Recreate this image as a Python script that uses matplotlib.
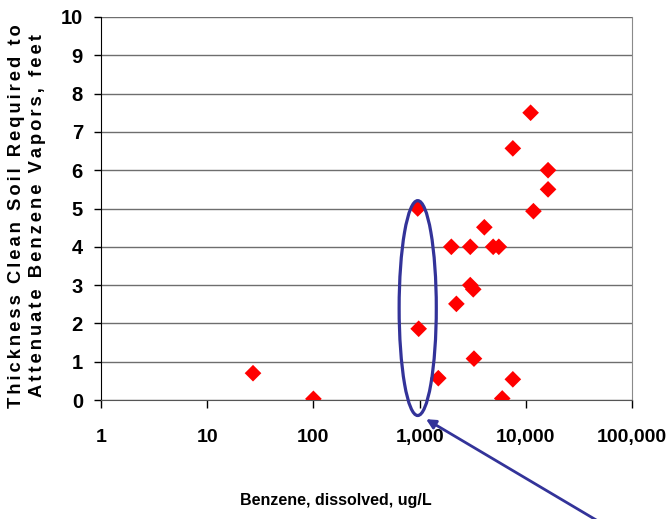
#!/usr/bin/env python3
"""Scatter of soil thickness needed to attenuate benzene vapours vs dissolved benzene."""

import matplotlib
matplotlib.use("Agg")
import matplotlib.pyplot as plt
from matplotlib.patches import Ellipse
from matplotlib.ticker import FixedLocator, NullLocator

# Dissolved benzene (ug/L) and required clean-soil thickness (ft)
benzene_ugl = [27, 100, 960, 980, 1500, 1990, 2220, 3000, 3000, 3200, 3250,
               4070, 4930, 5570, 6000, 7550, 7550, 11100, 16200, 16200, 11800]
thickness_ft = [0.70, 0.03, 5.0, 1.86, 0.57, 4.0, 2.51, 4.0, 3.0, 2.89, 1.08,
                4.51, 4.0, 4.0, 0.04, 0.54, 6.57, 7.5, 6.0, 5.5, 4.93]

x_ticks = [1, 10, 100, 1000, 10000, 100000]
x_tick_labels = ["1", "10", "100", "1,000", "10,000", "100,000"]
y_ticks = list(range(0, 11))

# group highlighted with the ellipse (around 1,000 ug/L)
group_center = (960, 2.4)

BLUE = "#333399"
SANS = ["Liberation Sans", "DejaVu Sans"]


def spaced(text):
    # widen the tracking a little with six-per-em spaces between letters
    return "\u2006".join(text)


fig = plt.figure(figsize=(6.68, 5.19), dpi=100)
ax = fig.add_axes([101 / 668, 1 - 400 / 519, 531 / 668, 383 / 519])

ax.scatter(benzene_ugl, thickness_ft, marker="D", s=72, color="#ff0000",
           edgecolors="none", zorder=3)

ax.set_xscale("log")
ax.set_xlim(1, 100000)
ax.set_ylim(0, 10)
ax.xaxis.set_major_locator(FixedLocator(x_ticks))
ax.xaxis.set_minor_locator(NullLocator())
ax.set_xticklabels(x_tick_labels, fontsize=14, fontweight="bold", family=SANS)
ax.set_yticks(y_ticks)
ax.set_yticklabels([str(v) for v in y_ticks], fontsize=14.5, fontweight="bold",
                   family=SANS)
ax.tick_params(axis="x", direction="out", length=6, width=1, pad=15, color="black")
ax.tick_params(axis="y", direction="out", length=5, width=1, pad=8, color="black")

ax.grid(axis="y", color="#6e6e6e", linewidth=1.0)
ax.set_axisbelow(True)
ax.spines["top"].set_visible(False)
ax.spines["right"].set_color("#8a8a8a")
ax.spines["left"].set_color("black")
ax.spines["bottom"].set_color("#555555")

ylabel = spaced("Thickness Clean Soil Required to") + "\n" + \
    spaced("Attenuate Benzene Vapors, feet")
fig.text(27 / 668, 1 - 216 / 519, ylabel,
         rotation=90, ha="center", va="center", fontsize=13.2, fontweight="bold",
         family=SANS, linespacing=1.3, multialignment="center")
fig.text(336 / 668, 1 - 500 / 519, "Benzene, dissolved, ug/L", ha="center",
         va="center", fontsize=11.5, fontweight="bold", family=SANS)

# ellipse around the ~1,000 ug/L samples
cx, cy = ax.transAxes.inverted().transform(ax.transData.transform(group_center))
ax.add_patch(Ellipse((cx, cy), 0.070, 0.561, transform=ax.transAxes,
                     fill=False, edgecolor=BLUE, linewidth=2.3, clip_on=False,
                     zorder=4))

ax.annotate("", xy=(1150, -0.5), xycoords="data",
            xytext=(612 / 668, -0.02), textcoords="figure fraction",
            arrowprops=dict(arrowstyle="-|>", color=BLUE, lw=2.0,
                            mutation_scale=14, shrinkA=0, shrinkB=0),
            annotation_clip=False)

fig.savefig("out.png", dpi=100)
